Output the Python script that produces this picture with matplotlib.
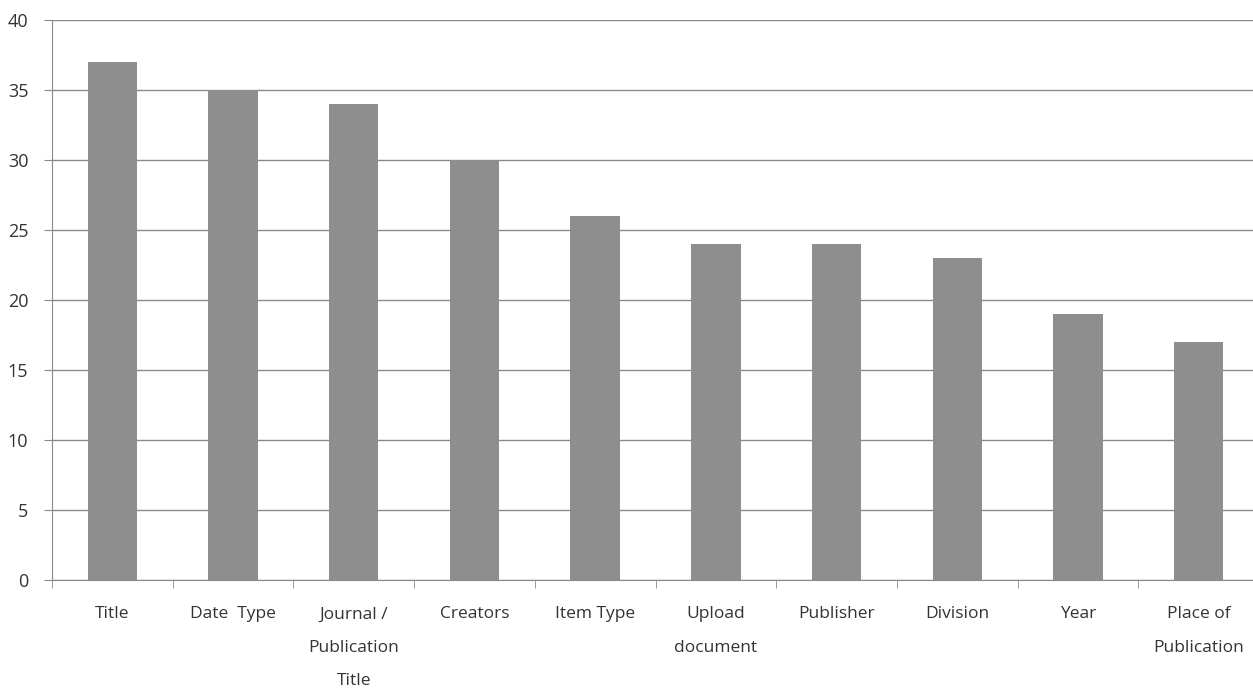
import matplotlib
matplotlib.use("Agg")
import matplotlib.pyplot as plt
import numpy as np

# ----- data -----
categories = ["Title", "Date  Type", "Journal /\nPublication\nTitle", "Creators",
              "Item Type", "Upload\ndocument", "Publisher", "Division", "Year",
              "Place of\nPublication"]
counts = [37, 35, 34, 30, 26, 24, 24, 23, 19, 17]
y_ticks = [0, 5, 10, 15, 20, 25, 30, 35, 40]

plt.rcParams['font.family'] = ['Open Sans', 'DejaVu Sans']

W, H = 1253, 689
fig = plt.figure(figsize=(W / 100, H / 100), dpi=100)
ax = fig.add_axes([52 / W, (H - 580) / H, 1207 / W, 560 / H])

x = np.arange(len(categories))
ax.bar(x, counts, width=0.41, color='#8e8e8e', zorder=3)

ax.set_xlim(-0.5, len(categories) - 0.5)
ax.set_ylim(0, 40)
ax.set_yticks(y_ticks)
ax.set_yticklabels([str(v) for v in y_ticks], fontsize=13, color='#333333')
ax.yaxis.grid(True, color='#8a8a8a', linewidth=1.0, zorder=0)

# category labels centered, tick marks at category boundaries
ax.set_xticks(x)
ax.set_xticklabels(categories, fontsize=12.5, color='#333333', linespacing=2.45,
                   va='top')
ax.tick_params(axis='x', length=0, pad=19)
ax.set_xticks(np.arange(len(categories) + 1) - 0.5, minor=True)
ax.tick_params(axis='x', which='minor', length=6, color='#8a8a8a', direction='out')
ax.tick_params(axis='y', length=6, color='#8a8a8a', pad=11)

for side in ['top', 'right']:
    ax.spines[side].set_visible(False)
ax.spines['left'].set_color('#8a8a8a')
ax.spines['bottom'].set_color('#8a8a8a')

fig.savefig("out.png", dpi=100)
